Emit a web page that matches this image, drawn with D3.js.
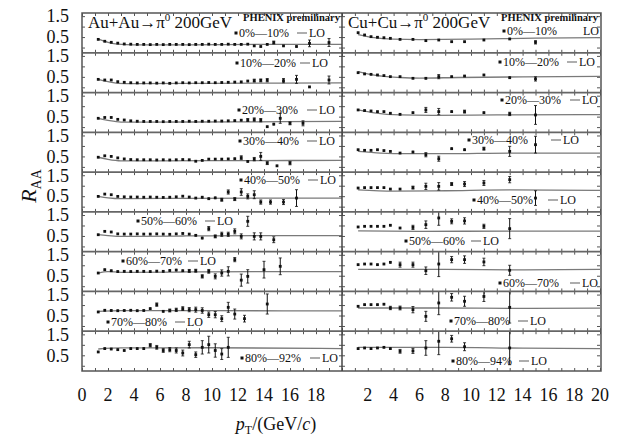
<!DOCTYPE html>
<html>
<head>
<meta charset="utf-8">
<script src="https://cdn.jsdelivr.net/npm/d3@7/dist/d3.min.js"></script>
<style>
  body { margin: 0; background: #fff; }
  svg text { font-family: "Liberation Serif", "Times New Roman", serif; fill: #111; }
</style>
</head>
<body>
<svg id="chart" width="625" height="440"></svg>
<script>
// ---- data: [pT, R_AA, error] ----
var auau_00_10 = [[1.25,0.39,0.03],[1.75,0.30,0.03],[2.25,0.25,0.02],[2.75,0.21,0.02],[3.25,0.17,0.02],[3.75,0.16,0.02],[4.25,0.15,0.02],[4.75,0.15,0.02],[5.25,0.14,0.02],[5.75,0.15,0.02],[6.25,0.14,0.02],[6.75,0.15,0.02],[7.25,0.15,0.02],[7.75,0.15,0.02],[8.25,0.14,0.02],[8.75,0.15,0.02],[9.25,0.15,0.02],[9.75,0.16,0.02],[10.25,0.15,0.02],[10.75,0.15,0.02],[11.25,0.16,0.02],[11.75,0.15,0.02],[12.25,0.15,0.03],[12.75,0.16,0.03],[13.25,0.08,0.03],[13.75,0.05,0.03],[14.25,0.15,0.04],[14.75,0.24,0.07],[15.5,0.08,0.04],[16.5,0.05,0.04],[17.5,0.20,0.16],[19,0.24,0.19]];
var auau_10_20 = [[1.25,0.38,0.03],[1.75,0.35,0.03],[2.25,0.35,0.03],[2.75,0.27,0.02],[3.25,0.24,0.02],[3.75,0.22,0.02],[4.25,0.21,0.02],[4.75,0.21,0.02],[5.25,0.21,0.02],[5.75,0.20,0.02],[6.25,0.21,0.02],[6.75,0.19,0.02],[7.25,0.21,0.02],[7.75,0.22,0.02],[8.25,0.21,0.02],[8.75,0.22,0.02],[9.25,0.22,0.02],[9.75,0.23,0.02],[10.25,0.22,0.03],[10.75,0.23,0.03],[11.25,0.24,0.03],[11.75,0.25,0.03],[12.25,0.26,0.04],[12.75,0.30,0.05],[13.25,0.32,0.07],[13.75,0.33,0.07],[14.25,0.34,0.08],[15.5,0.32,0.1],[16.5,0.38,0.19],[17.5,0.02,0.04],[19,0.35,0.19]];
var auau_20_30 = [[1.25,0.42,0.03],[1.75,0.46,0.03],[2.25,0.46,0.03],[2.75,0.37,0.02],[3.25,0.34,0.02],[3.75,0.30,0.02],[4.25,0.28,0.02],[4.75,0.27,0.02],[5.25,0.27,0.02],[5.75,0.27,0.02],[6.25,0.26,0.02],[6.75,0.27,0.02],[7.25,0.27,0.02],[7.75,0.27,0.02],[8.25,0.28,0.02],[8.75,0.27,0.02],[9.25,0.28,0.02],[9.75,0.28,0.02],[10.25,0.29,0.03],[10.75,0.29,0.03],[11.25,0.30,0.03],[11.75,0.31,0.04],[12.25,0.33,0.05],[12.75,0.34,0.07],[13.25,0.36,0.08],[13.75,0.33,0.08],[14.25,0.02,0.05],[14.75,0.14,0.06],[15.25,0.42,0.24],[16,0.18,0.07],[17,0.18,0.12]];
var auau_30_40 = [[1.25,0.46,0.03],[1.75,0.53,0.03],[2.25,0.50,0.03],[2.75,0.43,0.03],[3.25,0.38,0.02],[3.75,0.35,0.02],[4.25,0.34,0.02],[4.75,0.34,0.02],[5.25,0.34,0.02],[5.75,0.33,0.02],[6.25,0.34,0.02],[6.75,0.33,0.02],[7.25,0.34,0.02],[7.75,0.35,0.02],[8.25,0.34,0.02],[8.75,0.27,0.03],[9.25,0.31,0.03],[9.75,0.37,0.03],[10.25,0.37,0.03],[10.75,0.37,0.04],[11.25,0.38,0.04],[11.75,0.39,0.05],[12.25,0.44,0.09],[12.75,0.26,0.06],[13.25,0.37,0.08],[13.75,0.50,0.19],[14.25,0.18,0.07],[15,0.05,0.05],[16,0.18,0.08]];
var auau_40_50 = [[1.25,0.49,0.03],[1.75,0.60,0.03],[2.25,0.57,0.03],[2.75,0.49,0.03],[3.25,0.47,0.03],[3.75,0.46,0.03],[4.25,0.46,0.03],[4.75,0.45,0.03],[5.25,0.46,0.03],[5.75,0.45,0.03],[6.25,0.44,0.03],[6.75,0.45,0.03],[7.25,0.47,0.03],[7.75,0.50,0.03],[8.25,0.46,0.03],[8.75,0.41,0.04],[9.25,0.45,0.06],[9.75,0.38,0.06],[10.25,0.42,0.06],[10.75,0.33,0.07],[11.25,0.70,0.1],[11.75,0.36,0.07],[12.25,0.70,0.16],[12.75,0.49,0.12],[13.25,0.57,0.19],[13.75,0.22,0.1],[14.5,0.22,0.1],[15.5,0.22,0.12],[16.5,0.41,0.4]];
var auau_50_60 = [[1.25,0.56,0.03],[1.75,0.72,0.04],[2.25,0.69,0.04],[2.75,0.60,0.04],[3.25,0.59,0.04],[3.75,0.59,0.04],[4.25,0.60,0.04],[4.75,0.59,0.04],[5.25,0.59,0.04],[5.75,0.60,0.04],[6.25,0.59,0.04],[6.75,0.58,0.04],[7.25,0.60,0.04],[7.75,0.62,0.05],[8.25,0.59,0.05],[8.75,0.53,0.05],[9.25,0.40,0.06],[9.75,0.85,0.1],[10.25,0.48,0.07],[10.75,0.58,0.1],[11.25,0.58,0.1],[11.75,0.72,0.12],[12.25,0.48,0.12],[12.75,1.20,0.24],[13.25,0.48,0.17],[13.75,0.48,0.17],[14.75,0.32,0.14]];
var auau_60_70 = [[1.25,0.63,0.04],[1.75,0.79,0.05],[2.25,0.74,0.05],[2.75,0.70,0.05],[3.25,0.71,0.05],[3.75,0.70,0.05],[4.25,0.71,0.05],[4.75,0.71,0.05],[5.25,0.70,0.05],[5.75,0.72,0.05],[6.25,0.71,0.05],[6.75,0.75,0.06],[7.25,0.77,0.06],[7.75,0.74,0.06],[8.25,0.73,0.07],[8.75,0.74,0.07],[9.25,0.47,0.08],[9.75,0.71,0.09],[10.25,0.47,0.12],[10.75,0.63,0.15],[11.25,0.71,0.22],[11.75,1.27,0.1],[12.25,0.29,0.29],[12.75,0.47,0.32],[14,0.79,0.4],[15.25,0.95,0.4]];
var auau_70_80 = [[1.25,0.67,0.04],[1.75,0.75,0.05],[2.25,0.74,0.05],[2.75,0.73,0.05],[3.25,0.74,0.05],[3.75,0.75,0.05],[4.25,0.73,0.05],[4.75,0.74,0.05],[5.25,0.83,0.06],[5.75,1.02,0.08],[6.25,0.70,0.06],[6.75,0.74,0.07],[7.25,0.77,0.08],[7.75,0.83,0.09],[8.25,0.78,0.1],[8.75,0.78,0.12],[9.25,0.74,0.13],[9.75,0.54,0.13],[10.25,0.54,0.15],[10.75,0.35,0.14],[11.25,0.89,0.24],[11.75,0.57,0.24],[12.5,0.35,0.16],[14.25,1.05,0.48]];
var auau_80_92 = [[1.25,0.66,0.05],[1.75,0.82,0.05],[2.25,0.80,0.05],[2.75,0.77,0.05],[3.25,0.73,0.05],[3.75,0.82,0.05],[4.25,0.82,0.05],[4.75,0.82,0.06],[5.25,0.98,0.08],[5.75,0.88,0.09],[6.25,0.73,0.09],[6.75,0.77,0.1],[7.25,0.73,0.12],[7.75,0.61,0.14],[8.25,1.01,0.16],[8.75,0.53,0.13],[9.25,0.88,0.32],[9.75,1.01,0.4],[10.25,0.73,0.32],[10.75,0.56,0.26],[11.25,0.88,0.48]];

var cucu_00_10 = [[1.25,0.71,0.02],[1.75,0.60,0.02],[2.25,0.52,0.02],[2.75,0.49,0.02],[3.25,0.47,0.02],[3.75,0.44,0.02],[4.5,0.39,0.02],[5.5,0.39,0.03],[6.5,0.33,0.03],[7.5,0.36,0.03],[8.5,0.28,0.03],[9.5,0.28,0.03],[11,0.36,0.04],[13,0.41,0.05],[15,0.25,0.08]];
var cucu_10_20 = [[1.25,0.70,0.02],[1.75,0.64,0.02],[2.25,0.62,0.02],[2.75,0.59,0.02],[3.25,0.56,0.02],[3.75,0.51,0.02],[4.5,0.51,0.03],[5.5,0.43,0.03],[6.5,0.43,0.05],[7.5,0.51,0.1],[8.5,0.51,0.04],[9.5,0.54,0.04],[11,0.59,0.05],[13,0.46,0.06],[15,0.40,0.1]];
var cucu_20_30 = [[1.25,0.82,0.03],[1.75,0.79,0.03],[2.25,0.77,0.03],[2.75,0.74,0.03],[3.25,0.74,0.03],[3.75,0.66,0.03],[4.5,0.61,0.04],[5.5,0.69,0.05],[6.5,0.82,0.12],[7.5,0.74,0.15],[8.5,0.74,0.06],[9.5,0.74,0.07],[11,0.69,0.06],[13,0.63,0.08],[15,0.58,0.45]];
var cucu_30_40 = [[1.25,0.82,0.03],[1.75,0.79,0.03],[2.25,0.79,0.03],[2.75,0.82,0.03],[3.25,0.78,0.03],[3.75,0.74,0.03],[4.5,0.66,0.04],[5.5,0.71,0.06],[6.5,0.58,0.1],[7.5,0.39,0.12],[8.5,0.87,0.06],[9.5,0.82,0.06],[11,0.87,0.07],[13,0.74,0.24],[15,1.06,0.4]];
var cucu_40_50 = [[1.25,0.89,0.03],[1.75,0.91,0.03],[2.25,0.91,0.03],[2.75,0.91,0.03],[3.25,0.91,0.03],[3.75,0.84,0.04],[4.5,0.84,0.04],[5.5,0.91,0.07],[6.5,0.97,0.15],[7.5,0.97,0.18],[8.5,1.08,0.07],[9.5,1.08,0.12],[11,1.13,0.12],[13,1.29,0.15],[15,0.41,0.35]];
var cucu_50_60 = [[1.25,0.93,0.03],[1.75,0.96,0.03],[2.25,0.96,0.03],[2.75,0.96,0.03],[3.25,0.96,0.04],[3.75,1.01,0.04],[4.5,0.88,0.05],[5.5,0.91,0.1],[6.5,1.04,0.18],[7.5,1.36,0.35],[8.5,1.20,0.12],[9.5,1.22,0.15],[11,0.96,0.1],[13,0.85,0.48]];
var cucu_60_70 = [[1.25,1.03,0.04],[1.75,1.06,0.04],[2.25,1.06,0.04],[2.75,1.03,0.04],[3.25,1.06,0.05],[3.75,1.14,0.06],[4.5,1.03,0.12],[5.5,1.03,0.12],[6.5,0.74,0.18],[7.5,1.06,0.6],[8.5,1.27,0.15],[9.5,1.27,0.18],[11,1.16,0.18],[13,0.76,0.24]];
var cucu_70_80 = [[1.25,0.94,0.04],[1.75,1.02,0.04],[2.25,1.02,0.04],[2.75,1.02,0.04],[3.25,1.04,0.05],[3.75,0.86,0.08],[4.5,0.86,0.09],[5.5,0.78,0.15],[6.5,0.46,0.24],[7.5,1.10,0.56],[8.5,1.37,0.18],[9.5,1.18,0.24],[11,1.41,0.24],[13,0.89,0.75]];
var cucu_80_94 = [[1.25,0.82,0.04],[1.75,0.85,0.04],[2.25,0.82,0.04],[2.75,0.85,0.04],[3.25,0.88,0.05],[3.75,0.82,0.06],[4.5,0.69,0.09],[5.5,0.71,0.12],[6.5,0.85,0.35],[7.5,1.17,0.64],[8.5,1.29,0.16],[9.5,0.91,0.19],[13,0.85,0.8]];

// LO calculation curves: [pT, R_AA]
var auLO = [
  [[1.25,0.40],[2,0.25],[2.75,0.16],[4,0.13],[8,0.13],[14,0.15],[20,0.15]],
  [[1.25,0.38],[2,0.27],[2.75,0.19],[4,0.18],[10,0.19],[20,0.21]],
  [[1.25,0.42],[2,0.32],[3,0.24],[5,0.24],[12,0.25],[20,0.27]],
  [[1.25,0.46],[2,0.36],[3,0.29],[6,0.29],[12,0.30],[20,0.31]],
  [[1.25,0.49],[2,0.42],[3,0.38],[8,0.40],[14,0.41],[20,0.41]],
  [[1.25,0.56],[2,0.52],[3,0.48],[8,0.50],[14,0.52],[20,0.52]],
  [[1.25,0.63],[2,0.70],[3,0.66],[8,0.68],[14,0.70],[20,0.70]],
  [[1.25,0.70],[3,0.73],[10,0.73],[20,0.72]],
  [[1.25,0.80],[3,0.85],[10,0.86],[20,0.82]]
];
var cuLO = [
  [[1.25,0.62],[2.5,0.47],[4,0.40],[6,0.38],[10,0.40],[15,0.45],[20,0.47]],
  [[1.25,0.75],[2.5,0.58],[4.5,0.47],[6,0.44],[9,0.47],[14,0.50],[20,0.52]],
  [[1.25,0.82],[2.5,0.68],[4.5,0.58],[7,0.56],[12,0.58],[20,0.60]],
  [[1.25,0.74],[3,0.66],[5,0.63],[8,0.63],[13,0.66],[20,0.66]],
  [[1.25,0.80],[4,0.74],[8,0.76],[13,0.80],[20,0.78]],
  [[1.25,0.74],[6,0.72],[13,0.73],[20,0.73]],
  [[1.25,0.80],[8,0.80],[14,0.78],[20,0.80]],
  [[1.25,0.86],[7,0.86],[14,0.84],[20,0.85]],
  [[1.25,0.88],[8,0.88],[14,0.84],[20,0.82]]
];

var auCent = ["0%—10%","10%—20%","20%—30%","30%—40%","40%—50%","50%—60%","60%—70%","70%—80%","80%—92%"];
var cuCent = ["0%—10%","10%—20%","20%—30%","30%—40%","40%—50%","50%—60%","60%—70%","70%—80%","80%—94%"];
var auXTicks = [0,2,4,6,8,10,12,14,16,18];
var cuXTicks = [2,4,6,8,10,12,14,16,18,20];
var yTickLabels = [0.5, 1.5];

var auRows = [auau_00_10,auau_10_20,auau_20_30,auau_30_40,auau_40_50,auau_50_60,auau_60_70,auau_70_80,auau_80_92];
var cuRows = [cucu_00_10,cucu_10_20,cucu_20_30,cucu_30_40,cucu_40_50,cucu_50_60,cucu_60_70,cucu_70_80,cucu_80_94];

// legend placement: [marker x, centre y, dash x]
var auLegend = [[236,33,297],[237,63,300],[239,110,307],[240,141,307],[241,180,308],[138,221,205],[123,261,188],[108,322,175],[242,358,310]];
var cuLegend = [[504,31,null],[500,62,567],[502,100,570],[469,140,551],[474,200,548],[406,241,471],[500,283,570],[451,321,518],[453,361,519]];

// ---- layout ----
var FONT = "Liberation Serif";
var svg = d3.select("#chart");
var left = 82, mid = 342, right = 600;
var rowTop = 13, rowBottom = 371;
var rowH = (rowBottom - rowTop) / 9;
var y = d3.scaleLinear().domain([-0.25, 1.65]).range([rowH, 0]);
var defs = svg.append("defs");

function addText(x, yy, size, str) {
  return svg.append("text").attr("x", x).attr("y", yy)
    .style("font-family", FONT).attr("font-size", size).attr("fill", "#111").text(str);
}

function drawPanel(x0, x1, rows, lo, cents, legend, id) {
  var x = d3.scaleLinear().domain([0, 20]).range([x0, x1]);
  var loLine = d3.line()
    .x(function(d) { return x(d[0]); })
    .y(function(d) { return y(d[1]); })
    .curve(d3.curveMonotoneX);

  rows.forEach(function(data, i) {
    var g = svg.append("g").attr("transform", "translate(0," + (rowTop + i * rowH) + ")");
    defs.append("clipPath").attr("id", id + i)
      .append("rect").attr("x", x0).attr("y", 0).attr("width", x1 - x0).attr("height", rowH);

    // inward ticks on all four sides
    g.append("g").style("color", "#555")
      .call(d3.axisBottom(x).ticks(20).tickSize(3).tickFormat(""))
      .call(function(a) { a.select(".domain").remove(); });
    g.append("g").style("color", "#555").attr("transform", "translate(0," + rowH + ")")
      .call(d3.axisTop(x).ticks(20).tickSize(3).tickFormat(""))
      .call(function(a) { a.select(".domain").remove(); });
    g.append("g").style("color", "#555").attr("transform", "translate(" + x0 + ",0)")
      .call(d3.axisRight(y).tickValues([0, 0.5, 1, 1.5]).tickSize(3).tickFormat(""))
      .call(function(a) { a.select(".domain").remove(); });
    g.append("g").style("color", "#555").attr("transform", "translate(" + x1 + ",0)")
      .call(d3.axisLeft(y).tickValues([0, 0.5, 1, 1.5]).tickSize(3).tickFormat(""))
      .call(function(a) { a.select(".domain").remove(); });

    var c = g.append("g").attr("clip-path", "url(#" + id + i + ")");

    c.append("path").datum(lo[i])
      .attr("d", loLine)
      .attr("fill", "none")
      .attr("stroke", "#7a7a7a")
      .attr("stroke-width", 1.3);

    var pts = c.selectAll("g.pt").data(data).enter().append("g").attr("class", "pt");
    pts.append("line")
      .attr("x1", function(d) { return x(d[0]); })
      .attr("x2", function(d) { return x(d[0]); })
      .attr("y1", function(d) { return y(d[1] - d[2]); })
      .attr("y2", function(d) { return y(d[1] + d[2]); })
      .attr("stroke", "#111").attr("stroke-width", 1);
    pts.filter(function(d) { return d[2] > 0.06; }).append("path")
      .attr("d", function(d) {
        var px = x(d[0]);
        return "M" + (px - 1.5) + "," + y(d[1] + d[2]) + "h3M" + (px - 1.5) + "," + y(d[1] - d[2]) + "h3";
      })
      .attr("stroke", "#111").attr("stroke-width", 0.8);
    pts.append("rect")
      .attr("x", function(d) { return x(d[0]) - 1.4; })
      .attr("y", function(d) { return y(d[1]) - 1.4; })
      .attr("width", 2.8).attr("height", 2.8)
      .attr("fill", "#111");

    // legend
    var lg = legend[i];
    svg.append("rect").attr("x", lg[0] - 1.5).attr("y", lg[1] - 1.5).attr("width", 3).attr("height", 3).attr("fill", "#111");
    addText(lg[0] + 3, lg[1] + 4, 12, cents[i]);
    if (lg[2] !== null) {
      svg.append("line").attr("x1", lg[2]).attr("x2", lg[2] + 10)
        .attr("y1", lg[1]).attr("y2", lg[1]).attr("stroke", "#777").attr("stroke-width", 1.2);
      addText(lg[2] + 12, lg[1] + 4, 12, "LO");
    } else {
      addText(583, lg[1] + 4, 12, "LO");
    }
  });
  return x;
}

var xAu = drawPanel(left, mid, auRows, auLO, auCent, auLegend, "au");
var xCu = drawPanel(mid, right, cuRows, cuLO, cuCent, cuLegend, "cu");

// frame and row separators
for (var r = 1; r < 9; r++) {
  svg.append("line").attr("x1", left).attr("x2", right + 1)
    .attr("y1", rowTop + r * rowH).attr("y2", rowTop + r * rowH)
    .attr("stroke", "#666").attr("stroke-width", 1.8);
}
svg.append("rect").attr("x", left).attr("y", rowTop).attr("width", right + 1 - left).attr("height", rowBottom - rowTop)
  .attr("fill", "none").attr("stroke", "#555").attr("stroke-width", 1.5);
svg.append("line").attr("x1", mid).attr("x2", mid).attr("y1", rowTop).attr("y2", rowBottom)
  .attr("stroke", "#444").attr("stroke-width", 1.5);

// y tick labels
for (var k = 0; k < 9; k++) {
  yTickLabels.forEach(function(v) {
    addText(69, rowTop + k * rowH + y(v), 18, v.toFixed(1))
      .attr("text-anchor", "end").attr("dy", "0.35em");
  });
}

// x tick labels
auXTicks.forEach(function(d) {
  addText(xAu(d), 401, 18, d).attr("text-anchor", "middle");
});
cuXTicks.forEach(function(d) {
  addText(xCu(d), 401, 18, d).attr("text-anchor", "middle");
});

// axis titles
var xt = addText(276, 430, 18, null).attr("text-anchor", "middle");
xt.append("tspan").attr("font-style", "italic").text("p");
xt.append("tspan").attr("font-size", 12).attr("dy", 4).text("T");
xt.append("tspan").attr("dy", -4).text("/(GeV/");
xt.append("tspan").attr("font-style", "italic").text("c");
xt.append("tspan").text(")");

var yt = svg.append("text").attr("transform", "translate(36,186) rotate(-90)")
  .style("font-family", FONT).attr("text-anchor", "middle").attr("font-size", 22).attr("fill", "#111");
yt.append("tspan").attr("font-style", "italic").text("R");
yt.append("tspan").attr("font-size", 14).attr("dy", 5).text("AA");

// panel titles
function title(x, label) {
  var t = addText(x, 28, 17, null);
  t.append("tspan").text(label + "→π");
  t.append("tspan").attr("font-size", 11).attr("dy", -7).text("0");
  t.append("tspan").attr("dy", 7).text(" 200GeV");
}
title(88, "Au+Au");
title(348, "Cu+Cu");
addText(340, 21, 10.5, "PHENIX premilinary").attr("text-anchor", "end").attr("font-weight", "bold");
addText(598, 21, 10.5, "PHENIX premilinary").attr("text-anchor", "end").attr("font-weight", "bold");
</script>
</body>
</html>
